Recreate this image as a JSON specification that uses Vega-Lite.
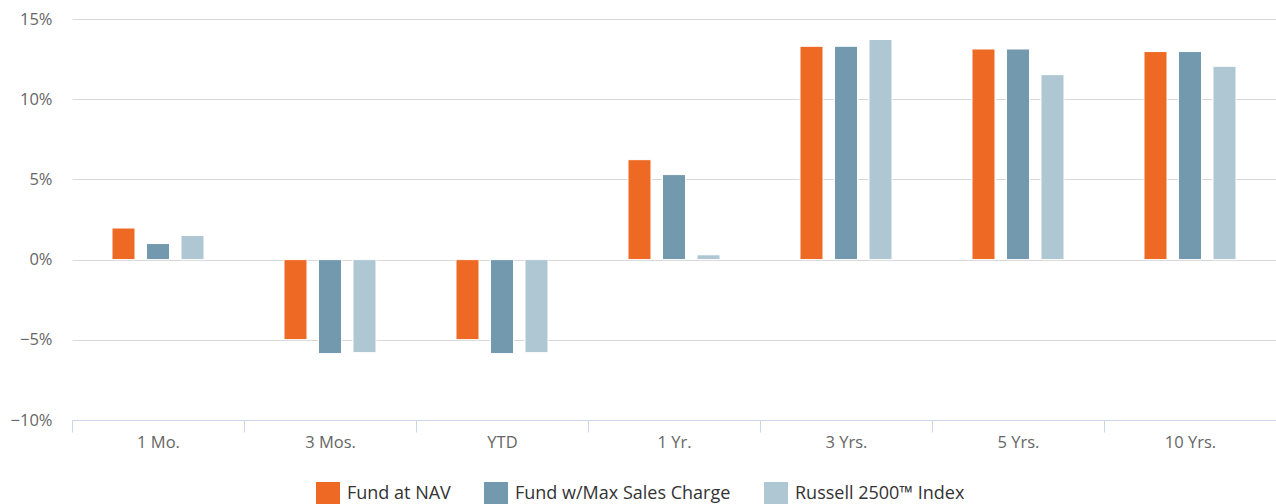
{
  "$schema": "https://vega.github.io/schema/vega-lite/v6.json",
  "width": 1204,
  "height": 401,
  "autosize": {"type": "none"},
  "padding": {"left": 72, "top": 19, "right": 0, "bottom": 84},
  "background": "white",
  "config": {"view": {"stroke": null}, "font": "Open Sans"},
  "data": {
    "values": [
      {"period": "1 Mo.", "series": "Fund at NAV", "value": 1.97},
      {"period": "1 Mo.", "series": "Fund w/Max Sales Charge", "value": 1.0},
      {"period": "1 Mo.", "series": "Russell 2500™ Index", "value": 1.5},
      {"period": "3 Mos.", "series": "Fund at NAV", "value": -4.99},
      {"period": "3 Mos.", "series": "Fund w/Max Sales Charge", "value": -5.86},
      {"period": "3 Mos.", "series": "Russell 2500™ Index", "value": -5.8},
      {"period": "YTD", "series": "Fund at NAV", "value": -4.99},
      {"period": "YTD", "series": "Fund w/Max Sales Charge", "value": -5.86},
      {"period": "YTD", "series": "Russell 2500™ Index", "value": -5.8},
      {"period": "1 Yr.", "series": "Fund at NAV", "value": 6.23},
      {"period": "1 Yr.", "series": "Fund w/Max Sales Charge", "value": 5.3},
      {"period": "1 Yr.", "series": "Russell 2500™ Index", "value": 0.3},
      {"period": "3 Yrs.", "series": "Fund at NAV", "value": 13.3},
      {"period": "3 Yrs.", "series": "Fund w/Max Sales Charge", "value": 13.3},
      {"period": "3 Yrs.", "series": "Russell 2500™ Index", "value": 13.72},
      {"period": "5 Yrs.", "series": "Fund at NAV", "value": 13.13},
      {"period": "5 Yrs.", "series": "Fund w/Max Sales Charge", "value": 13.13},
      {"period": "5 Yrs.", "series": "Russell 2500™ Index", "value": 11.53},
      {"period": "10 Yrs.", "series": "Fund at NAV", "value": 12.97},
      {"period": "10 Yrs.", "series": "Fund w/Max Sales Charge", "value": 12.97},
      {"period": "10 Yrs.", "series": "Russell 2500™ Index", "value": 12.05}
    ]
  },
  "mark": {"type": "bar", "stroke": "white", "strokeWidth": 1},
  "encoding": {
    "x": {
      "field": "period",
      "type": "nominal",
      "sort": ["1 Mo.", "3 Mos.", "YTD", "1 Yr.", "3 Yrs.", "5 Yrs.", "10 Yrs."],
      "scale": {"paddingInner": 0.064, "paddingOuter": 0.032},
      "axis": {
        "title": null,
        "labelAngle": 0,
        "tickBand": "center",
        "tickOffset": -86,
        "labelOffset": 86,
        "tickSize": 12,
        "tickColor": "#ccd6eb",
        "domainColor": "#ccd6eb",
        "labelColor": "#666666",
        "labelFontSize": 16.5,
        "labelPadding": 2,
        "grid": false
      }
    },
    "xOffset": {
      "field": "series",
      "type": "nominal",
      "sort": ["Fund at NAV", "Fund w/Max Sales Charge", "Russell 2500™ Index"],
      "scale": {"paddingInner": 0.333, "paddingOuter": 1}
    },
    "y": {
      "field": "value",
      "type": "quantitative",
      "scale": {"domain": [-10, 15], "nice": false},
      "axis": {
        "title": null,
        "values": [-10, -5, 0, 5, 10, 15],
        "labelExpr": "format(datum.value, 'd') + '%'",
        "domain": false,
        "ticks": false,
        "gridColor": "#d8d8d8",
        "labelColor": "#666666",
        "labelFontSize": 16.5,
        "labelPadding": 20
      }
    },
    "color": {
      "field": "series",
      "type": "nominal",
      "sort": ["Fund at NAV", "Fund w/Max Sales Charge", "Russell 2500™ Index"],
      "scale": {
        "domain": ["Fund at NAV", "Fund w/Max Sales Charge", "Russell 2500™ Index"],
        "range": ["#EE6A24", "#7399AF", "#AFC6D3"]
      },
      "legend": {
        "orient": "none",
        "legendX": 244,
        "legendY": 463,
        "padding": 0,
        "direction": "horizontal",
        "title": null,
        "symbolType": "square",
        "symbolSize": 576,
        "symbolStrokeWidth": 0,
        "labelFontSize": 18,
        "labelColor": "#333333",
        "labelLimit": 400,
        "labelOffset": 7,
        "columnPadding": 33
      }
    }
  }
}
